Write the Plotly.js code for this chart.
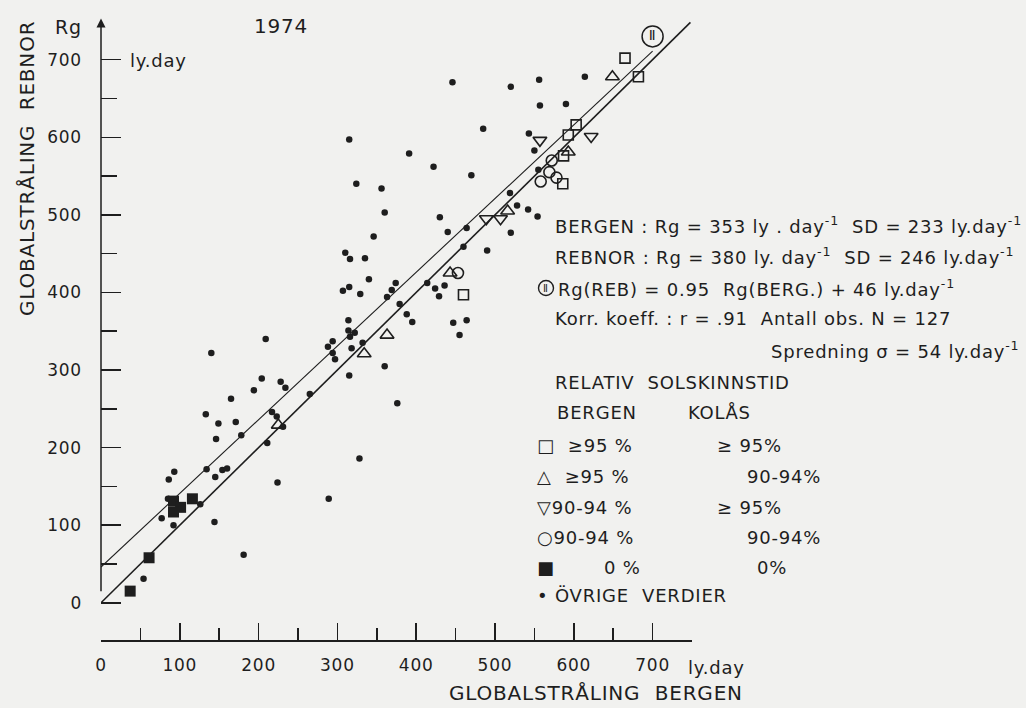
<!DOCTYPE html>
<html>
<head>
<meta charset="utf-8">
<script src="https://cdn.plot.ly/plotly-3.0.1.min.js"></script>
<style>html,body{margin:0;padding:0;background:#f1f1ef;}#chart{width:1026px;height:708px;}svg text{letter-spacing:0.8px;}</style>
</head>
<body>
<div id="chart"></div>
<script>
// ---- data (ly.day) ----
const otherX = [54,77,92,86,93,85,126,134,145,144,154,160,146,133,149,140,171,178,165,181,194,204,209,228,234,217,223,231,211,224,265,289,288,294,294,297,315,328,318,316,322,332,360,376,314,314,346,310,316,335,340,307,315,329,363,369,374,379,388,395,414,424,429,436,440,460,490,520,447,464,455,446,520,556,614,557,590,485,543,550,391,422,470,356,555,519,528,542,554,360,430,464,315,324];
const otherY = [31,109,100,159,169,134,127,172,162,104,171,173,211,243,231,322,233,216,263,62,274,289,340,285,277,246,240,227,206,155,269,134,330,337,322,314,293,186,328,343,348,335,305,257,364,351,472,451,443,444,417,402,407,398,394,403,412,385,372,362,412,405,395,409,478,459,454,477,361,364,345,671,665,674,678,641,643,611,605,583,579,562,551,534,558,528,512,507,498,503,497,483,597,540];
const sqOpenX = [665,682,603,593,587,586,460];
const sqOpenY = [702,678,616,603,576,540,397];
const triUpX = [649,516,593,363,334,225,443];
const triUpY = [678,505,581,345,321,229,425];
const triDownX = [557,622,489,507];
const triDownY = [596,601,495,495];
const circX = [572,558,569,578,453];
const circY = [570,543,555,548,425];
const sqFillX = [37,61,92,101,92,116];
const sqFillY = [15,58,131,123,117,134];
// regression Rg(REB) = 0.95 Rg(BERG.) + 46, and the 1:1 line
const regSlope = 0.95, regIntercept = 46;
const regX = [0, 700];
const oneX = [0, 748];
const lineLabel = {x: 700, y: 730, text: 'Ⅱ'};
const xTicks = [0,100,200,300,400,500,600,700];
const yTicks = [0,100,200,300,400,500,600,700];
const minorTicks = [50,150,250,350,450,550,650];

const ink = '#1e1e1e';
const FONT = 'DejaVu Sans, sans-serif';

const ML = 101, MR = 334, MT = 17, MB = 68, W = 1026, H = 708;
const PW = W - ML - MR, PH = H - MT - MB;
const px = v => (v - ML) / PW;
const py = v => (H - MB - v) / PH;

const mk = (x, y, symbol, size, lw) => ({
  x, y, type: 'scatter', mode: 'markers', hoverinfo: 'skip', cliponaxis: false,
  marker: {symbol, size, color: ink, line: {color: ink, width: lw}}
});

const traces = [
  {x: regX, y: regX.map(v => regSlope * v + regIntercept), type: 'scatter', mode: 'lines',
   line: {color: ink, width: 1.1}, hoverinfo: 'skip'},
  {x: oneX, y: oneX, type: 'scatter', mode: 'lines', line: {color: ink, width: 1.6}, hoverinfo: 'skip'},
  mk(otherX, otherY, 'circle', 6.5, 0),
  mk(sqOpenX, sqOpenY, 'square-open', 10, 1.6),
  mk(triUpX, triUpY, 'triangle-up-open', 12, 1.6),
  mk(triDownX, triDownY, 'triangle-down-open', 12, 1.6),
  mk(circX, circY, 'circle-open', 11, 1.6),
  mk(sqFillX, sqFillY, 'square', 11, 0),
  {x: [lineLabel.x], y: [lineLabel.y], type: 'scatter', mode: 'markers+text', text: [lineLabel.text],
   textposition: 'middle center', textfont: {family: FONT, size: 14, color: ink},
   marker: {symbol: 'circle-open', size: 21, color: ink, line: {color: ink, width: 1.5}},
   hoverinfo: 'skip', cliponaxis: false}
];

const LF = 18;
const ann = (xp, yp, text, opts) => Object.assign({
  xref: 'paper', yref: 'paper', x: px(xp), y: py(yp), text, showarrow: false,
  xanchor: 'left', yanchor: 'middle', font: {family: FONT, size: LF, color: ink}
}, opts || {});

const sup = '<sup>-1</sup>';
const annotations = [
  // y axis line with arrow
  {x: 0, y: 753, xref: 'x', yref: 'y', ax: 0, ay: 0, axref: 'x', ayref: 'y', showarrow: true,
   arrowhead: 2, arrowsize: 1.2, arrowwidth: 1.5, arrowcolor: ink, standoff: 0, startstandoff: 0, text: ' '},
  ann(68, 27, 'Rg', {xanchor: 'center', font: {family: FONT, size: 19, color: ink}}),
  ann(281, 26, '1974', {xanchor: 'center', font: {family: FONT, size: 20, color: ink}}),
  ann(128, 60, 'ly.day'),
  ann(27, 169, 'GLOBALSTRÅLING  REBNOR', {xanchor: 'center', textangle: -90, font: {family: FONT, size: 20, color: ink}}),
  ann(596, 693, 'GLOBALSTRÅLING  BERGEN', {xanchor: 'center', font: {family: FONT, size: 20, color: ink}}),
  ann(686, 667, 'ly.day'),
  // statistics block
  ann(553, 225, 'BERGEN : Rg = 353 ly . day' + sup + '  SD = 233 ly.day' + sup),
  ann(553, 256, 'REBNOR : Rg = 380 ly. day' + sup + '  SD = 246 ly.day' + sup),
  ann(546, 288, 'Ⅱ', {xanchor: 'center', font: {family: FONT, size: 10, color: ink}}),
  ann(556, 288, 'Rg(REB) = 0.95  Rg(BERG.) + 46 ly.day' + sup),
  ann(553, 319, 'Korr. koeff. : r = .91  Antall obs. N = 127'),
  ann(1021, 350, 'Spredning σ = 54 ly.day' + sup, {xanchor: 'right'}),
  ann(553, 382, 'RELATIV  SOLSKINNSTID'),
  ann(555, 413, 'BERGEN'),
  ann(686, 413, 'KOLÅS'),
  ann(535, 445, '□  ≥95 %'),
  ann(715, 445, '≥ 95%'),
  ann(535, 476, '△  ≥95 %'),
  ann(745, 476, '90-94%'),
  ann(535, 507, '▽90-94 %'),
  ann(715, 507, '≥ 95%'),
  ann(535, 537, '○90-94 %'),
  ann(745, 537, '90-94%'),
  ann(535, 567, '■'),
  ann(602, 567, '0 %'),
  ann(755, 567, '0%'),
  ann(535, 595, '• ÖVRIGE  VERDIER')
];

const shapes = [
  {type: 'circle', xref: 'paper', yref: 'paper', x0: px(538.5), x1: px(553.5), y0: py(295.5), y1: py(280.5),
   line: {color: ink, width: 1.4}}
];

const layout = {
  width: W, height: H,
  margin: {l: ML, r: MR, t: MT, b: MB, pad: 0},
  paper_bgcolor: '#f1f1ef', plot_bgcolor: '#f1f1ef',
  showlegend: false,
  font: {family: FONT, size: 17, color: ink},
  xaxis: {range: [0, 750], showgrid: false, zeroline: false, showline: true, linecolor: ink, linewidth: 1.5,
          tickmode: 'array', tickvals: xTicks, ticktext: xTicks.map(String), ticks: 'inside', ticklen: 17,
          tickwidth: 1.5, tickcolor: ink, ticklabelstandoff: 9,
          minor: {tickmode: 'array', tickvals: minorTicks, ticks: 'inside', ticklen: 12, tickwidth: 1.5, tickcolor: ink},
          tickfont: {family: FONT, size: 17, color: ink}},
  yaxis: {range: [-48, 755], showgrid: false, zeroline: false, showline: false,
          tickmode: 'array', tickvals: yTicks, ticktext: yTicks.map(String), ticks: 'inside', ticklen: 20,
          tickwidth: 1.5, tickcolor: ink, ticklabelstandoff: 18,
          minor: {tickmode: 'array', tickvals: minorTicks, ticks: 'inside', ticklen: 16, tickwidth: 1.5, tickcolor: ink},
          tickfont: {family: FONT, size: 17, color: ink}},
  annotations, shapes
};

Plotly.newPlot('chart', traces, layout, {displayModeBar: false, staticPlot: true});
</script>
</body>
</html>
